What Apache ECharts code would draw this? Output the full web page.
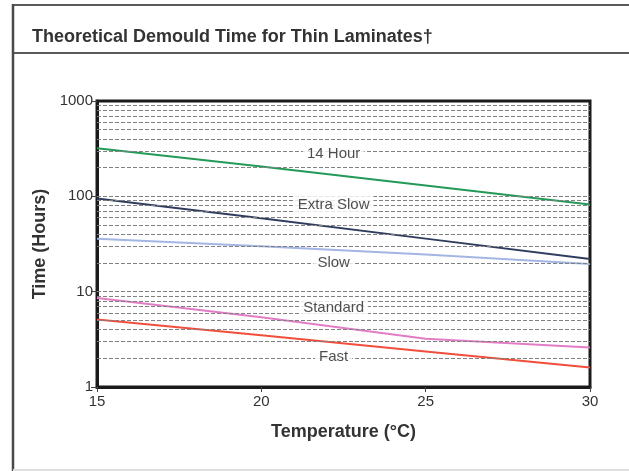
<!DOCTYPE html>
<html>
<head>
<meta charset="utf-8">
<script src="https://cdn.jsdelivr.net/npm/echarts@6/dist/echarts.min.js"></script>
<style>
html,body{margin:0;padding:0;background:#fff;}
#chart{width:629px;height:471px;}
</style>
</head>
<body>
<div id="chart"></div>
<script>
// Data (temperatures in °C, times in hours)
var temperatures = [15, 20, 25, 30];
var hour14 = [320, 205, 130, 82];
var extraSlow = [95, 59, 36, 22];
var slow = [36, 30, 24.5, 19.5];
var standard = [8.6, 5.4, 3.2, 2.6];
var fast = [5.1, 3.5, 2.36, 1.6];
var seriesNames = ['14 Hour', 'Extra Slow', 'Slow', 'Standard', 'Fast'];
var labelX = 22.2;
var labelY = [280, 82, 20, 6.7, 2.05];
var gridValues = [2,3,4,5,6,7,8,9,10,20,30,40,50,60,70,80,90,100,200,300,400,500,600,700,800,900];
var xTicks = [15, 20, 25, 30];
var yTicks = [1, 10, 100, 1000];

var colors = ['#239a57', '#2f3c5e', '#a3b6e3', '#e27cc4', '#f14e3c'];
var seriesValues = [hour14, extraSlow, slow, standard, fast];

function pairs(vals) {
  return temperatures.map(function (t, i) { return [t, vals[i]]; });
}

var series = [];
series.push({
  type: 'line', data: [], silent: true, z: 1,
  markLine: {
    silent: true, symbol: 'none', label: { show: false },
    lineStyle: { color: '#808080', type: [4, 2], width: 1 },
    data: gridValues.map(function (v) { return { yAxis: v }; })
  }
});
seriesValues.forEach(function (vals, i) {
  series.push({
    type: 'line', name: seriesNames[i], data: pairs(vals), showSymbol: false,
    smooth: false, z: 3, lineStyle: { color: colors[i], width: 2 }
  });
});
series.push({
  type: 'scatter', z: 5, symbolSize: 1, itemStyle: { color: 'rgba(0,0,0,0)' },
  data: seriesNames.map(function (n, i) { return { value: [labelX, labelY[i]], name: n }; }),
  label: {
    show: true, position: 'inside', formatter: function (p) { return p.name; },
    color: '#222', fontSize: 15, fontFamily: 'Liberation Sans, Arial, sans-serif',
    backgroundColor: '#fff', padding: [1, 4]
  }
});

var chart = echarts.init(document.getElementById('chart'), null, { renderer: 'canvas' });
chart.setOption({
  animation: false,
  backgroundColor: '#fff',
  title: {
    text: 'Theoretical Demould Time for Thin Laminates\u2020',
    left: 27, top: 23,
    textStyle: { fontSize: 18, fontWeight: 'bold', color: '#333', fontFamily: 'Liberation Sans, Arial, sans-serif' }
  },
  graphic: [
    { type: 'line', shape: { x1: 13, y1: 5, x2: 629, y2: 5 }, style: { stroke: '#5a5a5a', lineWidth: 2 } },
    { type: 'line', shape: { x1: 13, y1: 53, x2: 629, y2: 53 }, style: { stroke: '#5a5a5a', lineWidth: 2 } },
    { type: 'line', shape: { x1: 13, y1: 4, x2: 13, y2: 471 }, style: { stroke: '#4a4a4a', lineWidth: 2.5 } },
    { type: 'line', shape: { x1: 13, y1: 470, x2: 629, y2: 470 }, style: { stroke: '#dedede', lineWidth: 2 } }
  ],
  grid: {
    left: 97, right: 39, top: 101, bottom: 84,
    show: true, borderColor: '#1a1a1a', borderWidth: 3, backgroundColor: '#fff'
  },
  xAxis: {
    type: 'value', min: 15, max: 30, interval: 5,
    name: 'Temperature (\u00B0C)', nameLocation: 'middle', nameGap: 36,
    nameTextStyle: { fontSize: 18, fontWeight: 'bold', color: '#333', fontFamily: 'Liberation Sans, Arial, sans-serif' },
    axisLine: { show: true, lineStyle: { color: '#1a1a1a', width: 3 } },
    axisTick: { show: true, length: 5, lineStyle: { color: '#444', width: 1 } },
    axisLabel: { fontSize: 15, color: '#333', margin: 7, fontFamily: 'Liberation Sans, Arial, sans-serif',
      formatter: function (v) { return xTicks.indexOf(v) >= 0 ? String(v) : ''; } },
    splitLine: { show: false }
  },
  yAxis: {
    type: 'log', logBase: 10, min: 1, max: 1000,
    name: 'Time (Hours)', nameLocation: 'middle', nameGap: 47, nameRotate: 90,
    nameTextStyle: { fontSize: 18, fontWeight: 'bold', color: '#333', fontFamily: 'Liberation Sans, Arial, sans-serif' },
    axisLine: { show: true, lineStyle: { color: '#1a1a1a', width: 3 } },
    axisTick: { show: true, length: 6, lineStyle: { color: '#444', width: 1 } },
    axisLabel: { fontSize: 15, color: '#333', margin: 4, fontFamily: 'Liberation Sans, Arial, sans-serif',
      formatter: function (v) { return yTicks.indexOf(Math.round(v)) >= 0 ? String(Math.round(v)) : ''; } },
    splitLine: { show: false }
  },
  series: series
});
</script>
</body>
</html>
